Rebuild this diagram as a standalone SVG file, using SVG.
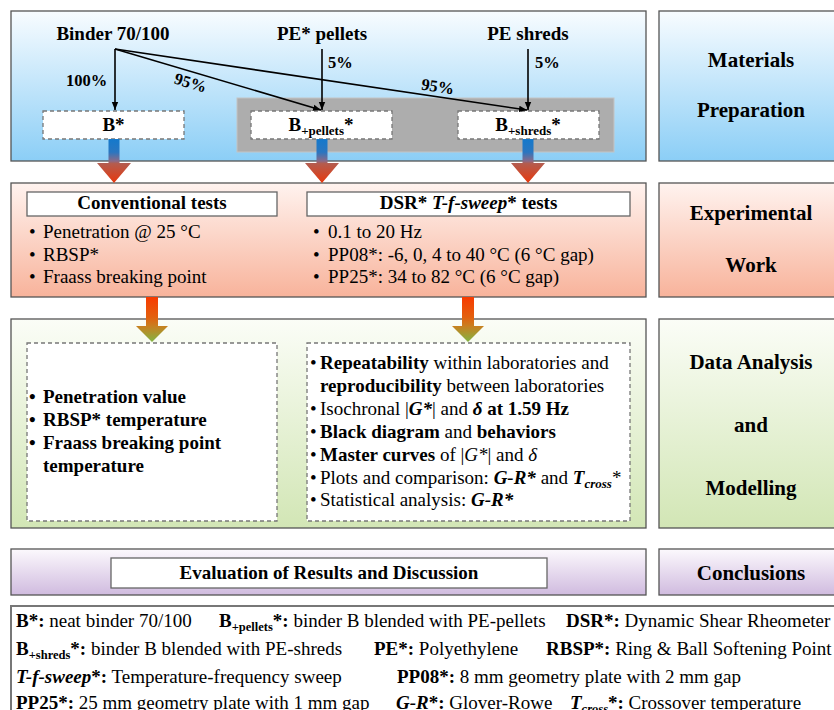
<svg xmlns="http://www.w3.org/2000/svg" width="834" height="710" viewBox="0 0 834 710" font-family="'Liberation Serif','Times New Roman',serif">
<style>
text{font-family:"Liberation Serif","Times New Roman",serif;fill:#000;font-size:19px}
.b{font-weight:bold}
.bi{font-weight:bold;font-style:italic}
.i{font-style:italic}
.lab{font-weight:bold;font-size:16.5px}
.pan{font-weight:bold;font-size:21px;text-anchor:middle}
.mid{text-anchor:middle}
.sec{stroke:#555;stroke-width:1.3}
.dash{fill:#fff;stroke:#777;stroke-width:1.3;stroke-dasharray:4 3}
.tbox{fill:#fff;stroke:#666;stroke-width:1.3}
.ln{stroke:#000;stroke-width:1.6;fill:none;marker-end:url(#ah)}
</style>
<defs>
<linearGradient id="gBlue" x1="0" y1="0" x2="0" y2="1"><stop offset="0" stop-color="#f8fcff"/><stop offset="1" stop-color="#8bcef6"/></linearGradient>
<linearGradient id="gSal" x1="0" y1="0" x2="0" y2="1"><stop offset="0" stop-color="#fff3ef"/><stop offset="1" stop-color="#f8b39b"/></linearGradient>
<linearGradient id="gGrn" x1="0" y1="0" x2="0" y2="1"><stop offset="0" stop-color="#fbfdf7"/><stop offset="1" stop-color="#d2e6b5"/></linearGradient>
<linearGradient id="gPur" x1="0" y1="0" x2="0" y2="1"><stop offset="0" stop-color="#fcf9fd"/><stop offset="1" stop-color="#d0bbdf"/></linearGradient>
<linearGradient id="gA1" x1="0" y1="0" x2="0" y2="1"><stop offset="0" stop-color="#1479cc"/><stop offset="0.3" stop-color="#2a76c0"/><stop offset="0.5" stop-color="#8a6a88"/><stop offset="0.56" stop-color="#b45c4e"/><stop offset="1" stop-color="#e8380c"/></linearGradient>
<linearGradient id="gA2" x1="0" y1="0" x2="0" y2="1"><stop offset="0" stop-color="#f83a00"/><stop offset="0.45" stop-color="#e2600e"/><stop offset="0.65" stop-color="#c88020"/><stop offset="1" stop-color="#82b442"/></linearGradient>
<marker id="ah" viewBox="0 0 10 10" refX="10" refY="5" markerWidth="5" markerHeight="5" orient="auto" markerUnits="strokeWidth"><path d="M0,1 L10,5 L0,9 z" fill="#000"/></marker>
</defs>

<!-- Section 1: Materials Preparation -->
<g id="sec-materials">
<rect class="sec" x="11" y="11" width="635" height="150" fill="url(#gBlue)"/>
<rect x="237" y="98" width="377" height="54" fill="#adadad" stroke="#c4c4c4" stroke-width="1"/>
</g>
<g id="panel-materials">
<rect class="sec" x="659" y="11" width="190" height="150" fill="url(#gBlue)"/>
<text class="pan" x="751" y="67">Materials</text>
<text class="pan" x="751" y="117">Preparation</text>
</g>
<g id="binder"><text class="b mid" x="113" y="40">Binder 70/100</text></g>
<g id="pe-pellets"><text class="b mid" x="322" y="40">PE* pellets</text></g>
<g id="pe-shreds"><text class="b mid" x="528" y="40">PE shreds</text></g>
<g id="node-B">
<rect class="dash" x="43" y="111" width="141" height="28"/>
<text class="b mid" x="113.5" y="131">B*</text>
</g>
<g id="node-Bpellets">
<rect class="dash" x="251" y="111" width="141" height="28"/>
<text class="b mid" x="321" y="131">B<tspan font-size="13" dy="4">+pellets</tspan><tspan dy="-4">*</tspan></text>
</g>
<g id="node-Bshreds">
<rect class="dash" x="458" y="111" width="141" height="28"/>
<text class="b mid" x="528" y="131">B<tspan font-size="13" dy="4">+shreds</tspan><tspan dy="-4">*</tspan></text>
</g>

<!-- Section 2: Experimental Work -->
<g id="sec-experimental">
<rect class="sec" x="11" y="183" width="635" height="114" fill="url(#gSal)"/>
</g>
<g id="panel-experimental">
<rect class="sec" x="659" y="183" width="190" height="114" fill="url(#gSal)"/>
<text class="pan" x="751" y="220">Experimental</text>
<text class="pan" x="751" y="272">Work</text>
</g>
<g id="conventional-tests">
<rect class="tbox" x="27" y="192" width="250" height="24"/>
<text class="b mid" x="152" y="209">Conventional tests</text>
<text x="29" y="238">•</text><text x="43" y="238">Penetration @ 25 °C</text>
<text x="29" y="261">•</text><text x="43" y="261">RBSP*</text>
<text x="29" y="283">•</text><text x="43" y="283">Fraass breaking point</text>
</g>
<g id="dsr-tests">
<rect class="tbox" x="307" y="192" width="323" height="24"/>
<text class="b mid" x="468.5" y="209">DSR* <tspan class="bi">T-f-sweep</tspan>* tests</text>
<text x="313" y="238">•</text><text x="328" y="238">0.1 to 20 Hz</text>
<text x="313" y="261">•</text><text x="328" y="261">PP08*: -6, 0, 4 to 40 °C (6 °C gap)</text>
<text x="313" y="283">•</text><text x="328" y="283">PP25*: 34 to 82 °C (6 °C gap)</text>
</g>

<!-- Section 3: Data Analysis and Modelling -->
<g id="sec-analysis">
<rect class="sec" x="11" y="319" width="635" height="209" fill="url(#gGrn)"/>
</g>
<g id="panel-analysis">
<rect class="sec" x="659" y="319" width="190" height="209" fill="url(#gGrn)"/>
<text class="pan" x="751" y="369">Data Analysis</text>
<text class="pan" x="751" y="432">and</text>
<text class="pan" x="751" y="495">Modelling</text>
</g>
<g id="conventional-results">
<rect class="dash" x="27" y="343" width="250" height="178"/>
<text class="b" x="29" y="403">•</text><text class="b" x="43" y="403">Penetration value</text>
<text class="b" x="29" y="426">•</text><text class="b" x="43" y="426">RBSP* temperature</text>
<text class="b" x="29" y="449">•</text><text class="b" x="43" y="449">Fraass breaking point</text>
<text class="b" x="43" y="472">temperature</text>
</g>
<g id="dsr-results">
<rect class="dash" x="307" y="343" width="323" height="178"/>
<text x="310" y="369">•</text><text x="320" y="369"><tspan class="b">Repeatability</tspan> within laboratories and</text>
<text x="320" y="392"><tspan class="b">reproducibility</tspan> between laboratories</text>
<text x="310" y="415">•</text><text x="320" y="415">Isochronal |<tspan class="bi">G*</tspan>| and <tspan class="bi">δ</tspan><tspan class="b"> at 1.59 Hz</tspan></text>
<text x="310" y="438">•</text><text x="320" y="438"><tspan class="b">Black diagram</tspan> and <tspan class="b">behaviors</tspan></text>
<text x="310" y="461">•</text><text x="320" y="461"><tspan class="b">Master curves</tspan> of |<tspan class="i">G*</tspan>| and <tspan class="i">δ</tspan></text>
<text x="310" y="484">•</text><text x="320" y="484">Plots and comparison: <tspan class="bi">G-R*</tspan> and <tspan class="bi">T</tspan><tspan class="bi" font-size="13" dy="4">cross</tspan><tspan dy="-4">*</tspan></text>
<text x="310" y="506">•</text><text x="320" y="506">Statistical analysis: <tspan class="bi">G-R*</tspan></text>
</g>

<!-- Section 4: Conclusions -->
<g id="sec-conclusions">
<rect class="sec" x="11" y="549" width="635" height="46" fill="url(#gPur)"/>
<rect class="tbox" x="111" y="558" width="436" height="30"/>
<text class="b mid" x="329" y="579">Evaluation of Results and Discussion</text>
</g>
<g id="panel-conclusions">
<rect class="sec" x="659" y="549" width="190" height="46" fill="url(#gPur)"/>
<text class="pan" x="751" y="580">Conclusions</text>
</g>

<!-- Legend -->
<g id="legend">
<rect x="11" y="606" width="840" height="120" fill="#fff" stroke="#777" stroke-width="2"/>
<text x="16" y="627"><tspan class="b">B*:</tspan> neat binder 70/100</text>
<text x="219" y="627"><tspan class="b">B</tspan><tspan class="b" font-size="12.5" dy="4">+pellets</tspan><tspan class="b" dy="-4">*:</tspan> binder B blended with PE-pellets</text>
<text x="566" y="627"><tspan class="b">DSR*:</tspan> Dynamic Shear Rheometer</text>
<text x="16" y="655"><tspan class="b">B</tspan><tspan class="b" font-size="12.5" dy="4">+shreds</tspan><tspan class="b" dy="-4">*:</tspan> binder B blended with PE-shreds</text>
<text x="374" y="655"><tspan class="b">PE*:</tspan> Polyethylene</text>
<text x="546" y="655"><tspan class="b">RBSP*:</tspan> Ring &amp; Ball Softening Point</text>
<text x="16" y="683"><tspan class="bi">T-f-sweep</tspan><tspan class="b">*:</tspan> Temperature-frequency sweep</text>
<text x="397" y="683"><tspan class="b">PP08*:</tspan> 8 mm geometry plate with 2 mm gap</text>
<text x="16" y="709"><tspan class="b">PP25*:</tspan> 25 mm geometry plate with 1 mm gap</text>
<text x="396" y="709"><tspan class="bi">G-R</tspan><tspan class="b">*:</tspan> Glover-Rowe</text>
<text x="570" y="709"><tspan class="bi">T</tspan><tspan class="bi" font-size="12.5" dy="4">cross</tspan><tspan class="b" dy="-4">*:</tspan> Crossover temperature</text>
</g>

<!-- Connectors -->
<g id="connectors">
<line class="ln" x1="115" y1="49" x2="115" y2="110"/>
<line class="ln" x1="115" y1="49" x2="321" y2="110"/>
<line class="ln" x1="115" y1="49" x2="527" y2="110"/>
<line class="ln" x1="322" y1="49" x2="322" y2="110"/>
<line class="ln" x1="528" y1="49" x2="528" y2="110"/>
<text class="lab" x="66" y="86">100%</text>
<text class="lab mid" transform="translate(189,88) rotate(16.4)">95%</text>
<text class="lab mid" transform="translate(437,92) rotate(8.4)">95%</text>
<text class="lab" x="328" y="68">5%</text>
<text class="lab" x="535" y="68">5%</text>
<polygon fill="url(#gA1)" points="108.5,139 119.5,139 119.5,163 131,163 114,183 97,163 108.5,163"/>
<polygon fill="url(#gA1)" points="316.5,139 327.5,139 327.5,163 339,163 322,183 305,163 316.5,163"/>
<polygon fill="url(#gA1)" points="522.5,139 533.5,139 533.5,163 545,163 528,183 511,163 522.5,163"/>
<polygon fill="url(#gA2)" points="146,297 158,297 158,326 168,326 152,342 136,326 146,326"/>
<polygon fill="url(#gA2)" points="462,297 474,297 474,326 484,326 468,342 452,326 462,326"/>
</g>
</svg>
